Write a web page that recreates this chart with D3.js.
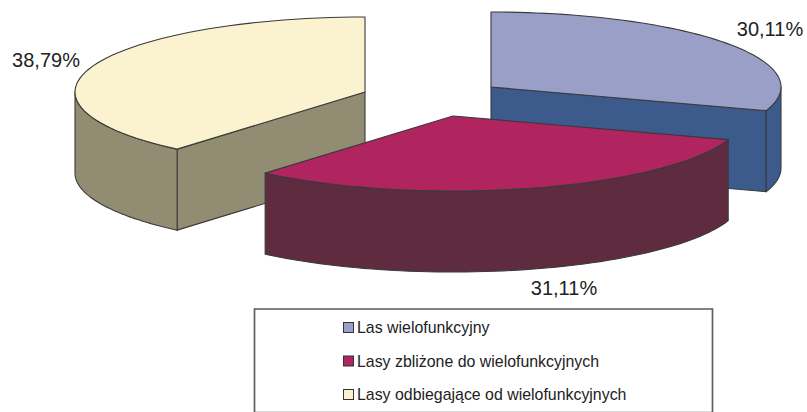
<!DOCTYPE html>
<html>
<head>
<meta charset="utf-8">
<script src="https://cdn.jsdelivr.net/npm/d3@7/dist/d3.min.js"></script>
<style>
html,body{margin:0;padding:0;background:#fff;}
svg{display:block;}
text{font-family:"Liberation Sans",Arial,sans-serif;fill:#222;}
</style>
</head>
<body>
<svg id="chart" width="807" height="412"></svg>
<script>
const categories = ["Las wielofunkcyjny", "Lasy zbliżone do wielofunkcyjnych", "Lasy odbiegające od wielofunkcyjnych"];
const shares = [30.11, 31.11, 38.79];
const shareLabels = ["30,11%", "31,11%", "38,79%"];
const topColors = ["#9a9fc8", "#b0245f", "#fbf3cf"];
const wallColors = ["#3d5a8c", "#5f2b3f", "#928c72"];

// Exploded pie geometry: each wedge has its own apex on the page.
const apexX = [491, 453, 365];
const apexY = [87, 116, 92];
const radiusX = 290, radiusY = 75, depth = 81;
const labelPos = [[770, 36], [564, 295], [46, 67]];
const outline = "#3a3a3a";

const svg = d3.select("#chart");
const wedges = d3.pie().sort(null).startAngle(0).endAngle(2 * Math.PI)(shares);

// Unit-circle coordinates to page coordinates for the tilted disc.
const sx = d3.scaleLinear().domain([-1, 1]).range([-radiusX, radiusX]);
const sy = d3.scaleLinear().domain([-1, 1]).range([-radiusY, radiusY]);
const rimPoint = (i, a, drop = 0) => [apexX[i] + sx(Math.sin(a)), apexY[i] + sy(-Math.cos(a)) + drop];
const sweep = (a0, a1) => d3.range(0, 61).map(k => a0 + (a1 - a0) * k / 60);
const line = d3.line();

function drawPath(points, fill, width = 1.1) {
  svg.append("path").attr("d", line(points) + "Z")
    .attr("fill", fill).attr("stroke", outline)
    .attr("stroke-width", width).attr("stroke-linejoin", "round");
}

function drawWedge(i) {
  const { startAngle: a0, endAngle: a1 } = wedges[i];
  const apex = [apexX[i], apexY[i]];

  // Radial wall on the cut edge that faces the viewer.
  const cut = i === 0 ? a1 : i === 2 ? a0 : null;
  if (cut !== null) {
    const r = rimPoint(i, cut);
    drawPath([apex, r, [r[0], r[1] + depth], [apex[0], apex[1] + depth]], wallColors[i]);
  }

  // Outer wall, only over the part of the rim that faces front.
  const lo = Math.max(a0, Math.PI / 2), hi = Math.min(a1, 3 * Math.PI / 2);
  if (hi > lo) {
    const arc = sweep(lo, hi);
    drawPath(arc.map(a => rimPoint(i, a)).concat(arc.slice().reverse().map(a => rimPoint(i, a, depth))), wallColors[i]);
  }

  // Top face.
  drawPath([apex].concat(sweep(a0, a1).map(a => rimPoint(i, a))), topColors[i]);
}

[2, 0, 1].forEach(drawWedge);

svg.selectAll("text.share").data(shareLabels).join("text")
  .attr("class", "share")
  .attr("x", (d, i) => labelPos[i][0])
  .attr("y", (d, i) => labelPos[i][1])
  .attr("text-anchor", "middle")
  .attr("font-size", 20)
  .text(d => d);

// Legend box reaches the lower page edge.
svg.append("rect").attr("x", 254.5).attr("y", 309).attr("width", 458).attr("height", 102.5)
  .attr("fill", "#fff").attr("stroke", "#d8d8d8").attr("stroke-width", 1);
svg.append("path").attr("d", "M254.5,412V309H712.5V412")
  .attr("fill", "none").attr("stroke", "#5f5f5f").attr("stroke-width", 1.7);

const rowY = d3.scalePoint().domain(categories).range([322, 389]);
const rows = svg.selectAll("g.row").data(categories).join("g")
  .attr("class", "row")
  .attr("transform", d => `translate(343,${rowY(d)})`);
rows.append("rect").attr("x", 0.5).attr("y", 0.5).attr("width", 10).attr("height", 10)
  .attr("fill", (d, i) => topColors[i]).attr("stroke", "#333").attr("stroke-width", 1);
rows.append("text").attr("x", 14).attr("y", 11).attr("font-size", 15.9).text(d => d);
</script>
</body>
</html>
